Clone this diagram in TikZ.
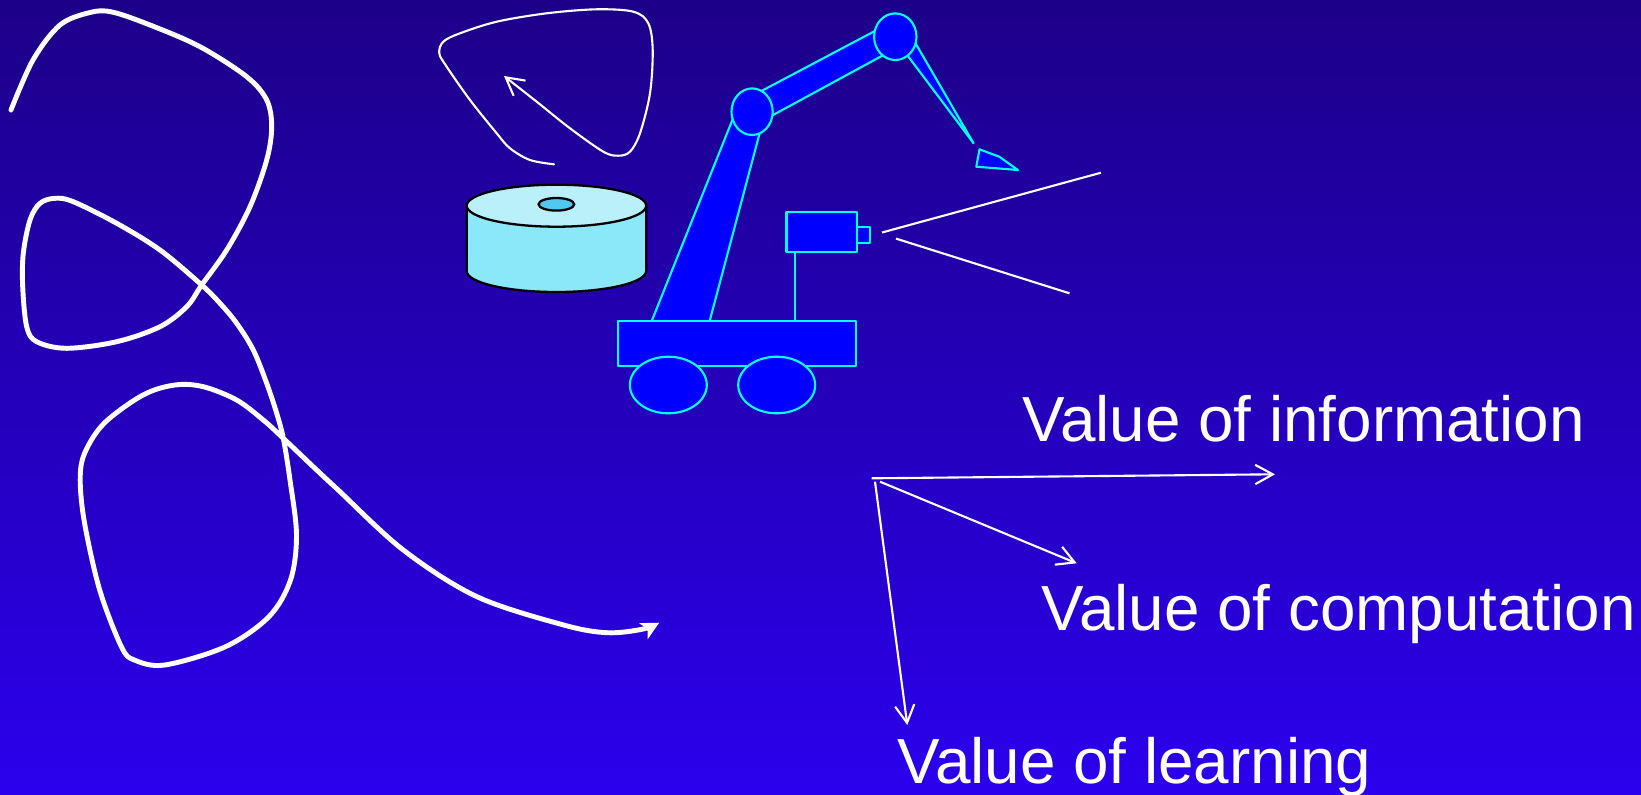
\documentclass[tikz,border=0pt]{standalone}
\usepackage{fontspec}
\setmainfont{Liberation Sans}
\usetikzlibrary{arrows.meta}
\definecolor{bgtop}{RGB}{29,0,136}
\definecolor{bgbot}{RGB}{43,0,237}
\definecolor{robotfill}{RGB}{0,0,255}
\definecolor{robotline}{RGB}{0,255,255}
\definecolor{disktop}{RGB}{186,240,250}
\definecolor{diskside}{RGB}{138,232,248}
\definecolor{diskhole}{RGB}{80,200,240}
\begin{document}
\begin{tikzpicture}[x=0.02cm,y=-0.02cm,
  robotpart/.style={fill=robotfill,draw=robotline,line width=1.2pt,line join=round},
  diskpart/.style={draw=black,line width=1.3pt},
  bigpath/.style={draw=white,line width=2.8pt,line cap=round,line join=round,
    -{Stealth[length=10pt,width=10pt,inset=2.5pt]}},
  smallpath/.style={draw=white,line width=1.2pt,line cap=round,
    -{Straight Barb[length=10pt,width=11pt]}},
  vecarrow/.style={draw=white,line width=1.2pt,
    -{Straight Barb[length=10pt,width=11pt]}},
  sight/.style={draw=white,line width=1.2pt},
  lbl/.style={text=white,inner sep=0pt,anchor=base west,
    font=\fontsize{36.3}{40}\selectfont}]

% background
\shade[top color=bgtop,bottom color=bgbot] (0,0) rectangle (1641,795);
\useasboundingbox (0,0) rectangle (1641,795);

% long looping trajectory
\draw[bigpath] plot[smooth,tension=0.55] coordinates {
  (11,110) (33,60) (60,25) (90,12.5) (112,12) (150,25) (200,46.7)
  (246.7,76.7) (266.7,100) (271.7,126.7) (266.7,160) (250,206.7)
  (226.7,250) (201.7,285) (186.7,306.7) (160,326.7) (116.7,341.7)
  (66.7,348.3) (36.7,341.7) (26.7,326.7) (22.7,286.7) (23.3,253.3)
  (30,220) (40,203.3) (55,198.3) (73.3,201.7) (116.7,223.3) (160,250)
  (201.7,285) (220,303.3) (236.7,323.3) (253.3,350) (266.7,383.3)
  (276.7,413.3) (283.3,438.3) (290,480) (296.5,535) (290.5,580)
  (268.9,616.7) (225.5,646.7) (164.8,665) (134.4,660) (121.4,646.7)
  (99.7,590) (84.6,523.3) (80.2,480) (84.6,453.3) (104.1,423.3)
  (143,395) (175,385) (203.3,386.7) (236.7,400) (263.3,420)
  (283.3,438.3) (316.7,470) (338.2,490) (403.3,550) (477,596.7)
  (563.7,625) (607.1,632.7) (641.8,629.3) (659.2,622.7)};

% small loop above the disk
\draw[smallpath] plot[smooth,tension=0.55] coordinates {
  (554,164.3) (530,160) (510,148.3) (496.7,133.3) (470,100)
  (446.7,66.7) (439.3,53.3) (443.3,41.7) (460,33.3) (496.7,21.7)
  (546.7,13.3) (596.7,9.3) (633.3,11.7) (648.3,23.3) (652.7,50)
  (650,93.3) (640,133.3) (630,151.7) (618.3,155.7) (603.3,151.7)
  (570,128.3) (536.7,101.7) (504,76)};

% disk
\filldraw[diskpart,fill=diskside] (466.7,205.7) -- (466.7,271)
  arc[start angle=180,end angle=0,x radius=89.75,y radius=21]
  -- (646.2,205.7) -- cycle;
\filldraw[diskpart,fill=disktop] (556.45,205.7) ellipse [x radius=89.75,y radius=21];
\filldraw[diskpart,fill=diskhole] (556.4,204.3) ellipse [x radius=17.8,y radius=6.3];

% robot arm
\filldraw[robotpart] (651.3,322) -- (709.4,322) -- (764.5,115) -- (735.6,112) -- cycle;
\filldraw[robotpart] (752,96) -- (890,23) -- (895,48.8) -- (760,122.1) -- cycle;
\filldraw[robotpart] (900.9,46.7) -- (973.6,143.3) -- (913.6,40) -- cycle;
\filldraw[robotpart] (752.1,111.7) ellipse [x radius=20.6,y radius=23.3];
\filldraw[robotpart] (895.3,36.7) ellipse [x radius=21.2,y radius=23.3];
\filldraw[robotpart] (979.5,149.3) -- (999.3,156.7) -- (1017.9,170) -- (976.3,166.7) -- cycle;

% camera on its post
\draw[robotline,line width=1.2pt] (794.8,252.3) -- (794.8,320.7);
\filldraw[robotpart] (786.5,212.3) rectangle (856.9,252.3);
\filldraw[robotpart] (856.9,226.7) rectangle (870,243.3);

% cart and wheels
\filldraw[robotpart] (617.7,320.7) rectangle (855.7,365.7);
\filldraw[robotpart] (668.3,385) ellipse [x radius=38.5,y radius=28.3];
\filldraw[robotpart] (776.7,385) ellipse [x radius=38.5,y radius=28.3];

% field of view
\coordinate (eyeA) at (882,232.5);
\coordinate (eyeB) at (896,238.6);
\coordinate (farA) at (1101,172.7);
\coordinate (farB) at (1069.5,293.3);
\draw[sight] (eyeA) -- (farA);
\draw[sight] (eyeB) -- (farB);

% value vectors
\coordinate (o1) at (871.7,478.3);
\coordinate (o2) at (880,481.7);
\coordinate (o3) at (875,481.7);
\coordinate (tipInfo) at (1275,474.3);
\coordinate (tipComp) at (1076.7,563.3);
\coordinate (tipLearn) at (907.3,725);
\draw[vecarrow] (o1) -- (tipInfo);
\draw[vecarrow] (o2) -- (tipComp);
\draw[vecarrow] (o3) -- (tipLearn);

\node[lbl] (info) at (1022,441) {Value of information};
\node[lbl] (comp) at (1041,630) {Value of computation};
\node[lbl] (learn) at (897,783) {Value of learning};
\end{tikzpicture}
\end{document}
